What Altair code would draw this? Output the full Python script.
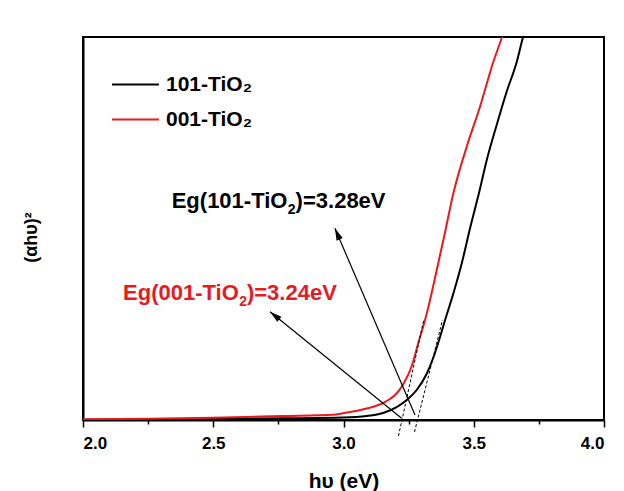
import math
import altair as alt
import pandas as pd

# ---------------- data ----------------
series_names = ["101-TiO₂", "001-TiO₂"]
series_colors = ["#000000", "#e8191f"]

x_101 = [2.000, 2.499, 2.768, 2.998, 3.089, 3.152, 3.204, 3.243, 3.281, 3.319,
         3.345, 3.370, 3.390, 3.422, 3.454, 3.486, 3.521, 3.550, 3.588, 3.626,
         3.665, 3.688, 3.697]
y_101 = [0.05, 0.26, 0.44, 0.65, 1.04, 1.83, 3.39, 5.22, 7.83, 12.01,
         16.32, 21.54, 26.11, 33.08, 40.91, 50.13, 59.53, 67.89, 77.02, 85.64,
         93.47, 99.67, 101.8]

x_001 = [2.000, 2.257, 2.499, 2.768, 2.960, 2.998, 3.089, 3.152, 3.178, 3.198,
         3.230, 3.262, 3.287, 3.313, 3.326, 3.358, 3.390, 3.422, 3.473, 3.524,
         3.575, 3.607, 3.620]
y_001 = [0.18, 0.34, 0.60, 1.04, 1.36, 1.75, 3.00, 4.44, 5.48, 6.53,
         9.40, 14.10, 20.10, 26.11, 29.58, 39.16, 49.09, 59.27, 71.36, 81.80,
         93.47, 99.67, 102.35]

# tangent (dashed) lines: two end points each
tan_101_x = [3.2726, 3.380]
tan_101_y = [-3.13, 26.1]
tan_001_x = [3.211, 3.308]
tan_001_y = [-4.18, 26.1]

# annotation arrows: tail -> head
arrow_101 = [(3.2745, 1.31), (2.967, 50.05)]
arrow_001 = [(3.223, 0.44), (2.718, 28.28)]

# annotation texts (split for the subscript), left edge / baseline anchors
ann_part1 = ["Eg(101-TiO", "Eg(001-TiO"]
ann_sub = ["2", "2"]
ann_part2 = [")=3.28eV", ")=3.24eV"]
ann_x = [2.3405, 2.1536]
ann_y = [55.27, 31.33]

x_ticks = [2.0, 2.25, 2.5, 2.75, 3.0, 3.25, 3.5, 3.75, 4.0]

# ---------------- layout / style ----------------
W, H = 521, 383
X_MIN, X_MAX = 2.0, 4.0
Y_MIN, Y_MAX = 0.0, 100.0
FONT = "Liberation Sans"
ANN_SIZE = 22
SUB_SIZE = 14

# Arial / Liberation Sans Bold advance widths (1/1000 em)
ADV = {"E": 667, "g": 611, "(": 333, ")": 333, "-": 333, "T": 611, "i": 278,
       "O": 778, "=": 584, ".": 278, "e": 556, "V": 667}


def text_width(s, size):
    return sum(ADV.get(ch, 556) for ch in s) * size / 1000.0


w1 = text_width(ann_part1[0], ANN_SIZE)
wsub = text_width(ann_sub[0], SUB_SIZE)

xs = alt.Scale(domain=[X_MIN, X_MAX], nice=False, zero=False)
ys = alt.Scale(domain=[Y_MIN, Y_MAX], nice=False, zero=False)

curves = pd.DataFrame(
    {"x": x_101 + x_001,
     "y": y_101 + y_001,
     "s": [series_names[0]] * len(x_101) + [series_names[1]] * len(x_001)}
)

major = "abs(datum.value*2 - round(datum.value*2)) < 0.01"
x_axis = alt.Axis(
    values=x_ticks,
    labelExpr=f"{major} ? format(datum.value, '.1f') : ''",
    tickSize={"condition": {"test": major, "value": 7}, "value": 4},
    tickColor="black", tickWidth=1.5,
    domainColor="black", domainWidth=2,
    labelFont=FONT, labelFontSize=17, labelFontWeight="bold", labelColor="black",
    labelPadding=8,
    title="hυ (eV)", titleFont=FONT, titleFontSize=21, titleFontWeight="bold",
    titleColor="black", titleY=67, titleBaseline="alphabetic",
    grid=False,
)
y_axis = alt.Axis(
    ticks=False, labels=False, grid=False,
    domainColor="black", domainWidth=2,
    title="(αhυ)²", titleFont=FONT, titleFontSize=18, titleFontWeight="bold",
    titleColor="black", titleAngle=270, titleX=-52, titleY=200,
    titleAlign="center", titleBaseline="middle",
)

lines = alt.Chart(curves).mark_line(
    strokeWidth=2, clip=True, interpolate="monotone"
).encode(
    x=alt.X("x:Q", scale=xs, axis=x_axis),
    y=alt.Y("y:Q", scale=ys, axis=y_axis),
    color=alt.Color(
        "s:N",
        scale=alt.Scale(domain=series_names, range=series_colors),
        sort=series_names,
        legend=alt.Legend(
            title=None, orient="none", legendX=28, legendY=23,
            symbolType="stroke", symbolSize=2200, symbolStrokeWidth=2,
            labelFont=FONT, labelFontSize=21, labelFontWeight="bold",
            labelColor="black", rowPadding=0, labelOffset=6, padding=0,
        ),
    ),
    detail="s:N",
)

tangents = pd.DataFrame(
    {"x": tan_101_x + tan_001_x,
     "y": tan_101_y + tan_001_y,
     "t": ["a", "a", "b", "b"]}
)
tan_layer = alt.Chart(tangents).mark_line(
    color="black", strokeWidth=1, strokeDash=[3, 2], clip=False
).encode(x=alt.X("x:Q", scale=xs), y=alt.Y("y:Q", scale=ys), detail="t:N")

# arrows
px_x = W / (X_MAX - X_MIN)
px_y = H / (Y_MAX - Y_MIN)
arrow_rows = []
head_rows = []
for name, (tail, head) in zip(["a", "b"], [arrow_101, arrow_001]):
    arrow_rows.append({"x": tail[0], "y": tail[1], "a": name})
    arrow_rows.append({"x": head[0], "y": head[1], "a": name})
    dxp = (head[0] - tail[0]) * px_x
    dyp = -(head[1] - tail[1]) * px_y
    ang = math.degrees(math.atan2(dxp, -dyp)) % 360
    head_rows.append({"x": head[0], "y": head[1], "ang": ang})

arrow_lines = alt.Chart(pd.DataFrame(arrow_rows)).mark_line(
    color="black", strokeWidth=1.2
).encode(x=alt.X("x:Q", scale=xs), y=alt.Y("y:Q", scale=ys), detail="a:N")

arrow_heads = alt.Chart(pd.DataFrame(head_rows)).mark_point(
    shape="M0,0 L0.28,1 L-0.28,1 Z", size=576, filled=True,
    color="black", opacity=1, strokeWidth=0
).encode(
    x=alt.X("x:Q", scale=xs), y=alt.Y("y:Q", scale=ys),
    angle=alt.Angle("ang:Q", scale=None),
)

ann = pd.DataFrame({"x": ann_x, "y": ann_y, "p1": ann_part1, "sb": ann_sub,
                    "p2": ann_part2, "c": series_colors})
ann_base = alt.Chart(ann).encode(
    x=alt.X("x:Q", scale=xs), y=alt.Y("y:Q", scale=ys),
    color=alt.Color("c:N", scale=None),
)
ann_1 = ann_base.mark_text(
    font=FONT, fontSize=ANN_SIZE, fontWeight="bold", align="left",
    baseline="alphabetic"
).encode(text="p1:N")
ann_s = ann_base.mark_text(
    font=FONT, fontSize=SUB_SIZE, fontWeight="bold", align="left",
    baseline="alphabetic", dx=w1, dy=6
).encode(text="sb:N")
ann_2 = ann_base.mark_text(
    font=FONT, fontSize=ANN_SIZE, fontWeight="bold", align="left",
    baseline="alphabetic", dx=w1 + wsub
).encode(text="p2:N")

chart = alt.layer(
    lines, tan_layer, arrow_lines, arrow_heads, ann_1, ann_s, ann_2
).properties(
    width=W, height=H,
    autosize=alt.AutoSizeParams(type="none"),
    padding={"left": 75, "top": 29, "right": 12, "bottom": 71},
    background="white",
).configure_view(stroke="black", strokeWidth=2)

chart.save("out.html", embed_options={"renderer": "svg", "actions": False})
